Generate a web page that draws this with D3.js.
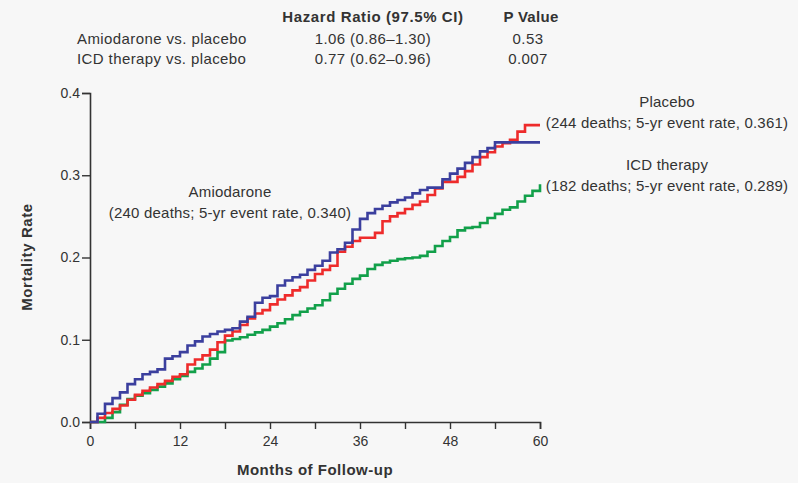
<!DOCTYPE html>
<html>
<head>
<meta charset="utf-8">
<script src="https://cdn.jsdelivr.net/npm/d3@7/dist/d3.min.js"></script>
<style>
  html, body { margin: 0; padding: 0; background: #f7f7f7; }
  svg { display: block; font-family: "Liberation Sans", Arial, sans-serif; }
</style>
</head>
<body>
<svg id="chart" width="798" height="483"></svg>
<script>
// Follow-up months (cumulative mortality read at each month)
const months = d3.range(0, 61);

const amiodarone = [
  0, 0.010, 0.022, 0.029, 0.036, 0.046, 0.052, 0.058, 0.061, 0.064,
  0.077, 0.080, 0.085, 0.093, 0.098, 0.104, 0.107, 0.110, 0.112, 0.114,
  0.122, 0.128, 0.145, 0.151, 0.153, 0.166, 0.172, 0.176, 0.179, 0.185,
  0.190, 0.196, 0.206, 0.210, 0.218, 0.234, 0.247, 0.254, 0.259, 0.263,
  0.267, 0.270, 0.273, 0.278, 0.282, 0.285, 0.285, 0.295, 0.302, 0.308,
  0.315, 0.322, 0.329, 0.333, 0.340, 0.340, 0.340, 0.340, 0.340, 0.340, 0.340
];

const placebo = [
  0, 0.005, 0.011, 0.016, 0.020, 0.027, 0.033, 0.038, 0.042, 0.046,
  0.050, 0.055, 0.058, 0.070, 0.076, 0.081, 0.088, 0.097, 0.105, 0.110,
  0.118, 0.126, 0.132, 0.136, 0.143, 0.149, 0.154, 0.160, 0.164, 0.172,
  0.180, 0.185, 0.190, 0.207, 0.213, 0.220, 0.224, 0.224, 0.230, 0.244,
  0.250, 0.254, 0.259, 0.264, 0.268, 0.276, 0.284, 0.292, 0.292, 0.298,
  0.305, 0.313, 0.322, 0.328, 0.335, 0.339, 0.343, 0.353, 0.361, 0.361, 0.361
];

const icdTherapy = [
  0, 0, 0.005, 0.012, 0.021, 0.028, 0.032, 0.035, 0.039, 0.043,
  0.047, 0.052, 0.056, 0.061, 0.065, 0.070, 0.077, 0.085, 0.099, 0.101,
  0.103, 0.106, 0.109, 0.112, 0.116, 0.120, 0.125, 0.130, 0.134, 0.138,
  0.142, 0.148, 0.156, 0.162, 0.168, 0.174, 0.178, 0.186, 0.191, 0.194,
  0.196, 0.198, 0.199, 0.200, 0.202, 0.207, 0.214, 0.220, 0.225, 0.233,
  0.236, 0.237, 0.242, 0.248, 0.253, 0.258, 0.261, 0.268, 0.275, 0.281, 0.289
];

const deaths = { amiodarone: 240, placebo: 244, icd: 182 };

const yTicks = [0, 0.1, 0.2, 0.3, 0.4];
const xMinorTicks = d3.range(0, 61, 6);
const xLabelTicks = [0, 12, 24, 36, 48, 60];

const tableHeader = ["Hazard Ratio (97.5% CI)", "P Value"];
const tableRows = [
  ["Amiodarone vs. placebo", "1.06 (0.86\u20131.30)", "0.53"],
  ["ICD therapy vs. placebo", "0.77 (0.62\u20130.96)", "0.007"]
];

const svg = d3.select("#chart");
const ink = "#333";

const x = d3.scaleLinear().domain([0, 60]).range([90, 540]);
const y = d3.scaleLinear().domain([0, 0.4]).range([422, 93]);

// Summary table above the plot
const table = svg.append("g").attr("fill", ink)
  .style("font-size", "15px").style("letter-spacing", "0.4px");
table.append("text").attr("x", 373).attr("y", 22).attr("text-anchor", "middle")
  .attr("font-weight", "bold").style("letter-spacing", "0.6px").text(tableHeader[0]);
table.append("text").attr("x", 531).attr("y", 22).attr("text-anchor", "middle")
  .attr("font-weight", "bold").style("letter-spacing", "0.3px").text(tableHeader[1]);
tableRows.forEach((r, i) => {
  const by = 44 + i * 20;
  table.append("text").attr("x", 77).attr("y", by).text(r[0]);
  table.append("text").attr("x", 373).attr("y", by).attr("text-anchor", "middle").text(r[1]);
  table.append("text").attr("x", 528).attr("y", by).attr("text-anchor", "middle").text(r[2]);
});

// Axes
const yAxis = d3.axisLeft(y).tickValues(yTicks).tickFormat(d3.format(".1f")).tickSize(8).tickPadding(2);
const gy = svg.append("g").attr("transform", `translate(${x(0)},0)`).call(yAxis);
const xAxis = d3.axisBottom(x).tickValues(xMinorTicks)
  .tickFormat(d => xLabelTicks.includes(d) ? d : "").tickSize(7).tickPadding(7);
const gx = svg.append("g").attr("transform", `translate(0,${y(0)})`).call(xAxis);

[gx, gy].forEach(g => {
  g.select(".domain").attr("stroke", ink).attr("stroke-width", 1.6);
  g.selectAll(".tick line").attr("stroke", ink).attr("stroke-width", 1.4);
  g.selectAll(".tick text").attr("fill", ink).style("font-size", "14px")
    .style("font-family", "'Liberation Sans', Arial, sans-serif");
});

svg.append("text").attr("x", 315).attr("y", 475).attr("text-anchor", "middle")
  .attr("font-weight", "bold").attr("fill", ink).style("font-size", "15px")
  .style("letter-spacing", "0.5px").text("Months of Follow-up");
svg.append("text").attr("transform", "translate(32,257) rotate(-90)")
  .attr("text-anchor", "middle").attr("font-weight", "bold").attr("fill", ink)
  .style("font-size", "15px").style("letter-spacing", "0.6px").text("Mortality Rate");

// Kaplan-Meier style step curves
const line = d3.line()
  .x((d, i) => x(months[i]))
  .y(d => y(d))
  .curve(d3.curveStepAfter);

const series = [
  { values: icdTherapy, color: "#12a04a" },
  { values: placebo, color: "#ee2b2b" },
  { values: amiodarone, color: "#3b3f9e" }
];
svg.append("g").selectAll("path").data(series).join("path")
  .attr("d", d => line(d.values))
  .attr("fill", "none")
  .attr("stroke", d => d.color)
  .attr("stroke-width", 2.6);

// Curve annotations
const rateFmt = d3.format(".3f");
const last = arr => arr[arr.length - 1];
const note = (cx, by, title, n, rate) => {
  const g = svg.append("g").attr("fill", ink).style("font-size", "15px")
    .style("letter-spacing", "0.2px").attr("text-anchor", "middle");
  g.append("text").attr("x", cx).attr("y", by).text(title);
  g.append("text").attr("x", cx).attr("y", by + 21)
    .text(`(${n} deaths; 5-yr event rate, ${rateFmt(rate)})`);
};
note(230, 197, "Amiodarone", deaths.amiodarone, last(amiodarone));
note(667, 107, "Placebo", deaths.placebo, last(placebo));
note(667, 170, "ICD therapy", deaths.icd, last(icdTherapy));
</script>
</body>
</html>
